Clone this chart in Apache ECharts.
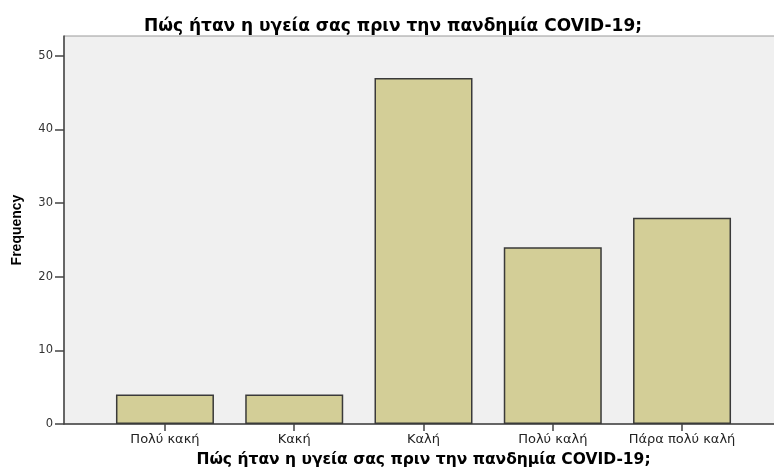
<!DOCTYPE html>
<html>
<head>
<meta charset="utf-8">
<script src="https://cdn.jsdelivr.net/npm/echarts@6/dist/echarts.min.js"></script>
<style>
  html, body { margin: 0; padding: 0; background: #fff; }
  #main { width: 774px; height: 468px; }
</style>
</head>
<body>
<div id="main"></div>
<script>
const categories = ['Πολύ κακή', 'Κακή', 'Καλή', 'Πολύ καλή', 'Πάρα πολύ καλή'];
const frequency = [4, 4, 47, 24, 28];
const yTicks = [0, 10, 20, 30, 40, 50];
const titleText = 'Πώς ήταν η υγεία σας πριν την πανδημία COVID-19;';

const wide = '"DejaVu Sans", Verdana, sans-serif';
const arial = 'Arial, "Liberation Sans", sans-serif';
const catIndex = categories.map((c, i) => i);

const myChart = echarts.init(document.getElementById('main'));

myChart.setOption({
  backgroundColor: '#fff',
  animation: false,
  title: {
    text: titleText,
    left: 388,
    top: 13,
    textAlign: 'center',
    textStyle: { fontFamily: wide, fontSize: 17, fontWeight: 'bold', color: '#000' }
  },
  grid: {
    left: 64,
    right: -9,
    top: 36,
    bottom: 44,
    outerBoundsMode: 'none',
    containLabel: false,
    show: true,
    backgroundColor: '#f0f0f0',
    borderColor: '#9a9a9a',
    borderWidth: 1
  },
  xAxis: {
    type: 'value',
    min: -0.781,
    max: 4.781,
    name: titleText,
    nameLocation: 'middle',
    nameGap: 28,
    nameTextStyle: { fontFamily: wide, fontSize: 15.5, fontWeight: 'bold', color: '#000' },
    splitLine: { show: false },
    axisLine: { show: true, onZero: false, lineStyle: { color: '#444', width: 1.5 } },
    axisTick: { show: true, customValues: catIndex, length: 7, lineStyle: { color: '#444', width: 1.5 } },
    axisLabel: {
      customValues: catIndex,
      margin: 9,
      fontFamily: wide,
      fontSize: 13,
      color: '#222',
      formatter(v) {
        return categories[Math.round(v)] || '';
      }
    }
  },
  yAxis: {
    type: 'value',
    min: 0,
    max: 52.7,
    name: 'Frequency',
    nameLocation: 'middle',
    nameGap: 40,
    nameRotate: 90,
    nameTextStyle: { fontFamily: arial, fontSize: 14, fontWeight: 'bold', color: '#000' },
    splitLine: { show: false },
    axisLine: { show: true, onZero: false, lineStyle: { color: '#444', width: 1.5 } },
    axisTick: { show: true, customValues: yTicks, length: 9, lineStyle: { color: '#444', width: 1.5 } },
    axisLabel: {
      customValues: yTicks,
      margin: 11,
      fontFamily: wide,
      fontSize: 11.5,
      color: '#333'
    }
  },
  series: [
    {
      type: 'bar',
      barWidth: 98,
      data: frequency.map((v, i) => [i, v]),
      itemStyle: {
        color: '#d3ce97',
        borderColor: '#3a3a3a',
        borderWidth: 1.5
      }
    }
  ]
});
</script>
</body>
</html>
